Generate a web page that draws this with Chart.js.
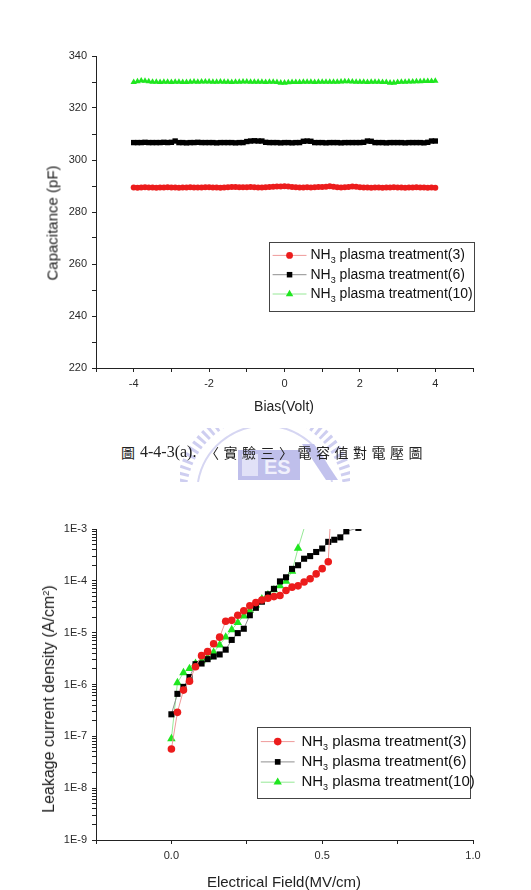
<!DOCTYPE html>
<html lang="zh-Hant">
<head>
<meta charset="UTF-8">
<title>NH3 plasma treatment: C-V and J-E</title>
<script src="https://cdn.jsdelivr.net/npm/chart.js@4"></script>
<style>
  body { margin: 0; background: #fff; font-family: 'Liberation Sans', Arial, sans-serif; }
  .page { position: relative; width: 531px; height: 890px; overflow: hidden; background: #fff; }
  .plot { position: absolute; left: 0; }
  .axis-title { position: absolute; color: #222; white-space: nowrap; transform: translate(-50%, -50%); line-height: 1; }
  .axis-title.vert { transform: translate(-50%, -50%) rotate(-90deg); }
  .axis-title sup { font-size: 60%; vertical-align: 0.55em; line-height: 0; }
  .mark { position: absolute; left: 180px; top: 428px; width: 170px; height: 54px; z-index: 0; opacity: 0.85; }
  .cap { position: absolute; top: 442px; line-height: 20px; color: #222; white-space: nowrap; z-index: 1; }
  .cjk { font-family: 'Noto Sans CJK TC', sans-serif; font-size: 14px; }
  .num { font-family: 'Liberation Serif', 'Times New Roman', serif; font-size: 16px; }
</style>
</head>
<body>
<div class="page">
  <canvas id="cvChart" class="plot" style="top:0" width="531" height="430"></canvas>
  <div class="axis-title vert" style="left:52px; top:223px; font-size:15px;">Capacitance (pF)</div>
  <div class="axis-title" style="left:284px; top:406px; font-size:14px;">Bias(Volt)</div>

  <svg class="mark" viewBox="0 0 170 54" xmlns="http://www.w3.org/2000/svg">
    <path d="M 2 54 A 84 84 0 0 1 168 54" fill="none" stroke="#c6c6ee" stroke-width="11" stroke-dasharray="3 3.5"/>
    <path d="M 18 54 A 68 68 0 0 1 152 54" fill="none" stroke="#cfcff0" stroke-width="2"/>
    <rect x="58" y="22" width="62" height="30" fill="#b4b4e8"/>
    <rect x="62" y="26" width="16" height="22" fill="#dcdcf6"/>
    <text x="84" y="46" font-family="Liberation Sans, Arial" font-size="20" font-weight="bold" fill="#eeeefc">ES</text>
    <path d="M 122 16 L 134 16 L 158 52 L 146 52 Z" fill="#b8b8ea"/>
  </svg>
  <div class="cap cjk" style="left:121px;">圖</div>
  <div class="cap num" style="left:140px;">4-4-3(a).</div>
  <div class="cap cjk" style="left:205px; letter-spacing:4.5px;">〈實驗三〉電容值對電壓圖</div>

  <canvas id="jeChart" class="plot" style="top:490px" width="531" height="400"></canvas>
  <div class="axis-title vert" style="left:49px; top:699px; font-size:16px;">Leakage current density (A/cm<sup>2</sup>)</div>
  <div class="axis-title" style="left:284px; top:881px; font-size:15px;">Electrical Field(MV/cm)</div>
</div>

<script>
// ---- C-V data (pF vs Volt) ----
const seriesLabels = ['NH₃ plasma treatment(3)', 'NH₃ plasma treatment(6)', 'NH₃ plasma treatment(10)'];

const biasVolt = [
  -4.0, -3.9, -3.8, -3.7, -3.6, -3.5, -3.4, -3.3, -3.2, -3.1,
  -3.0, -2.9, -2.8, -2.7, -2.6, -2.5, -2.4, -2.3, -2.2, -2.1,
  -2.0, -1.9, -1.8, -1.7, -1.6, -1.5, -1.4, -1.3, -1.2, -1.1,
  -1.0, -0.9, -0.8, -0.7, -0.6, -0.5, -0.4, -0.3, -0.2, -0.1,
  0.0, 0.1, 0.2, 0.3, 0.4, 0.5, 0.6, 0.7, 0.8, 0.9,
  1.0, 1.1, 1.2, 1.3, 1.4, 1.5, 1.6, 1.7, 1.8, 1.9,
  2.0, 2.1, 2.2, 2.3, 2.4, 2.5, 2.6, 2.7, 2.8, 2.9,
  3.0, 3.1, 3.2, 3.3, 3.4, 3.5, 3.6, 3.7, 3.8, 3.9,
  4.0
];
const capTreat3 = [
  289.4, 289.3, 289.4, 289.5, 289.4, 289.4, 289.3, 289.4, 289.4, 289.5,
  289.4, 289.4, 289.3, 289.4, 289.4, 289.5, 289.4, 289.4, 289.4, 289.5,
  289.5, 289.4, 289.4, 289.3, 289.4, 289.5, 289.6, 289.6, 289.5, 289.5,
  289.5, 289.6, 289.5, 289.4, 289.4, 289.5, 289.6, 289.7, 289.8, 289.8,
  289.9, 289.8, 289.6, 289.5, 289.4, 289.4, 289.5, 289.4, 289.5, 289.6,
  289.6, 289.7, 289.9, 289.7, 289.5, 289.4, 289.5, 289.6, 289.8, 289.7,
  289.5, 289.4, 289.4, 289.3, 289.4, 289.4, 289.3, 289.4, 289.4, 289.5,
  289.4, 289.4, 289.3, 289.4, 289.4, 289.5, 289.4, 289.4, 289.3, 289.4,
  289.3
];
const capTreat6 = [
  306.7, 306.7, 306.7, 306.8, 306.7, 306.7, 306.7, 306.7, 306.8, 306.7,
  306.8, 307.3, 306.7, 306.7, 306.6, 306.7, 306.7, 306.8, 306.7, 306.7,
  306.7, 306.7, 306.6, 306.7, 306.7, 306.7, 306.7, 306.6, 306.7, 306.7,
  307.1, 307.3, 307.4, 307.3, 307.3, 306.8, 306.7, 306.7, 306.7, 306.6,
  306.7, 306.7, 306.6, 306.7, 306.7, 307.2, 307.3, 307.2, 306.7, 306.7,
  306.7, 306.6, 306.7, 306.7, 306.7, 306.6, 306.7, 306.7, 306.7, 306.7,
  306.7, 306.8, 307.3, 307.2, 306.7, 306.7, 306.7, 306.6, 306.7, 306.7,
  306.7, 306.7, 306.6, 306.7, 306.7, 306.7, 306.7, 306.6, 306.8, 307.3,
  307.3
];
const capTreat10 = [
  329.9, 330.2, 330.5, 330.4, 330.2, 330.0, 330.0, 329.9, 330.0, 330.0,
  329.9, 330.0, 330.0, 329.9, 329.9, 330.0, 330.1, 330.0, 330.1, 330.1,
  330.1, 330.0, 330.0, 330.1, 330.0, 330.0, 329.9, 330.0, 330.0, 330.1,
  330.1, 330.0, 330.0, 330.0, 330.0, 329.9, 330.0, 330.0, 329.9, 329.7,
  329.7, 329.8, 329.9, 329.9, 329.9, 330.0, 330.0, 330.0, 329.9, 330.0,
  330.0, 330.0, 330.0, 330.0, 330.0, 330.1, 330.2, 330.2, 330.1, 330.0,
  330.0, 330.0, 329.9, 330.0, 330.0, 330.0, 329.9, 329.9, 329.7, 329.7,
  329.9, 330.0, 330.0, 330.1, 330.1, 330.2, 330.2, 330.3, 330.3, 330.3,
  330.4
];
const biasTicks = [-5, -4, -3, -2, -1, 0, 1, 2, 3, 4, 5];
const biasTickLabels = ['', '-4', '', '-2', '', '0', '', '2', '', '4', ''];
const capTicks = [220, 230, 240, 250, 260, 270, 280, 290, 300, 310, 320, 330, 340];
const capTickLabels = ['220', '', '240', '', '260', '', '280', '', '300', '', '320', '', '340'];

// ---- J-E data (A/cm2 vs MV/cm) ----
const fieldTreat3 = [0, 0.02, 0.04, 0.06, 0.08, 0.10, 0.12, 0.14, 0.16, 0.18, 0.20, 0.22, 0.24, 0.26,
  0.28, 0.30, 0.32, 0.34, 0.36, 0.38, 0.40, 0.42, 0.44, 0.46, 0.48, 0.50, 0.52, 0.53];
const leakTreat3 = [5.7e-8, 2.9e-7, 7.8e-7, 1.16e-6, 2.2e-6, 3.6e-6, 4.3e-6, 6.1e-6, 8.2e-6, 1.66e-5,
  1.73e-5, 2.17e-5, 2.64e-5, 3.3e-5, 3.8e-5, 4.27e-5, 4.6e-5, 4.96e-5, 5.2e-5, 6.5e-5, 7.55e-5,
  8.0e-5, 9.5e-5, 1.1e-4, 1.36e-4, 1.72e-4, 2.33e-4, 3.0e-3];
const fieldTreat6 = [0, 0.02, 0.04, 0.06, 0.08, 0.10, 0.12, 0.14, 0.16, 0.18, 0.20, 0.22, 0.24, 0.26,
  0.28, 0.30, 0.32, 0.34, 0.36, 0.38, 0.40, 0.42, 0.44, 0.46, 0.48, 0.50, 0.52, 0.54, 0.56, 0.58, 0.62];
const leakTreat6 = [2.66e-7, 6.6e-7, 9.0e-7, 1.39e-6, 2.46e-6, 2.54e-6, 3.08e-6, 3.47e-6, 3.8e-6, 4.7e-6,
  7.25e-6, 9.8e-6, 1.19e-5, 2.17e-5, 3.02e-5, 3.96e-5, 5.5e-5, 7.0e-5, 9.75e-5, 1.17e-4, 1.7e-4,
  2.0e-4, 2.67e-4, 3.0e-4, 3.6e-4, 4.2e-4, 5.65e-4, 6.2e-4, 6.9e-4, 9.0e-4, 1.05e-3];
const fieldTreat10 = [0, 0.02, 0.04, 0.06, 0.08, 0.10, 0.12, 0.14, 0.16, 0.18, 0.20, 0.22, 0.24, 0.26,
  0.28, 0.30, 0.32, 0.34, 0.36, 0.38, 0.40, 0.42, 0.45];
const leakTreat10 = [9.0e-8, 1.08e-6, 1.69e-6, 2.02e-6, 2.54e-6, 2.86e-6, 3.3e-6, 4.17e-6, 5.8e-6, 8.2e-6,
  1.14e-5, 1.56e-5, 2.1e-5, 2.7e-5, 3.4e-5, 4.47e-5, 5.35e-5, 6.7e-5, 8.0e-5, 9.75e-5, 1.53e-4,
  4.25e-4, 1.6e-3];
const fieldTicks = [-0.25, 0, 0.25, 0.5, 0.75, 1.0];
const fieldTickLabels = ['', '0.0', '', '0.5', '', '1.0'];
const leakDecades = [1e-9, 1e-8, 1e-7, 1e-6, 1e-5, 1e-4, 1e-3];
const leakDecadeLabels = ['1E-9', '1E-8', '1E-7', '1E-6', '1E-5', '1E-4', '1E-3'];

// minor log ticks 2..9 inside every decade
const leakTicks = [];
leakDecades.forEach((d, i) => {
  leakTicks.push(d);
  if (i < leakDecades.length - 1) {
    for (let m = 2; m <= 9; m++) leakTicks.push(+(d * m).toPrecision(3));
  }
});

const markerFill = ['#ec1c1c', '#000000', '#1fe61f'];
const lineTint = ['#ef9a9a', '#8f8f8f', '#96e896'];
const markerShape = ['circle', 'rect', 'triangle'];

Chart.defaults.font.family = "'Liberation Sans', Arial, sans-serif";
Chart.defaults.color = '#2a2a2a';

function drawMarker(ctx, shape, x, y, r, fill) {
  ctx.fillStyle = fill;
  ctx.beginPath();
  if (shape === 'circle') {
    ctx.arc(x, y, r, 0, Math.PI * 2);
  } else if (shape === 'rect') {
    const h = r * Math.SQRT1_2;
    ctx.rect(x - h, y - h, 2 * h, 2 * h);
  } else {
    ctx.moveTo(x, y - r);
    ctx.lineTo(x + r * 0.866, y + r * 0.5);
    ctx.lineTo(x - r * 0.866, y + r * 0.5);
    ctx.closePath();
  }
  ctx.fill();
}

// legend drawn as an Origin-style framed box, with the subscript in NH3
const boxLegend = {
  id: 'boxLegend',
  afterDatasetsDraw(chart, args, o) {
    const ctx = chart.ctx;
    ctx.save();
    ctx.fillStyle = '#fff';
    ctx.fillRect(o.left, o.top, o.right - o.left, o.bottom - o.top);
    ctx.strokeStyle = '#444';
    ctx.lineWidth = 1;
    ctx.strokeRect(Math.round(o.left) + 0.5, Math.round(o.top) + 0.5,
      Math.round(o.right - o.left), Math.round(o.bottom - o.top));
    chart.data.datasets.forEach((ds, i) => {
      const y = o.rows[i];
      ctx.strokeStyle = ds.borderColor;
      ctx.lineWidth = 1;
      ctx.beginPath();
      ctx.moveTo(o.lineX0, y);
      ctx.lineTo(o.lineX1, y);
      ctx.stroke();
      drawMarker(ctx, ds.pointStyle, (o.lineX0 + o.lineX1) / 2, y, o.markerR[i], ds.pointBackgroundColor);

      const parts = ds.label.split('₃');
      const fs = o.fontSize;
      ctx.fillStyle = '#111';
      ctx.textBaseline = 'middle';
      ctx.textAlign = 'left';
      ctx.font = fs + "px 'Liberation Sans', Arial";
      let x = o.textX;
      ctx.fillText(parts[0], x, y);
      x += ctx.measureText(parts[0]).width;
      ctx.font = Math.round(fs * 0.62) + "px 'Liberation Sans', Arial";
      ctx.fillText('3', x, y + fs * 0.38);
      x += ctx.measureText('3').width;
      ctx.font = fs + "px 'Liberation Sans', Arial";
      ctx.fillText(parts[1], x, y);
    });
    ctx.restore();
  }
};

function axisStyle(extra) {
  return Object.assign({
    grid: { drawOnChartArea: false, drawTicks: true, tickLength: 4, tickColor: '#222', tickWidth: 1 },
    border: { display: true, color: '#222', width: 1 }
  }, extra);
}

// ---------- chart 1: capacitance vs bias ----------
new Chart(document.getElementById('cvChart'), {
  type: 'scatter',
  data: {
    datasets: [capTreat3, capTreat6, capTreat10].map((vals, i) => ({
      label: seriesLabels[i],
      data: biasVolt.map((v, k) => ({ x: v, y: vals[k] })),
      showLine: true,
      borderColor: lineTint[i],
      borderWidth: 1,
      pointStyle: markerShape[i],
      pointRadius: [3, 3.8, 3.7][i],
      pointBorderWidth: 0,
      pointBackgroundColor: markerFill[i],
      pointBorderColor: markerFill[i]
    }))
  },
  options: {
    responsive: false,
    animation: false,
    layout: { padding: { top: 56, right: 58, left: 0, bottom: 0 } },
    plugins: {
      legend: { display: false },
      tooltip: { enabled: false },
      boxLegend: {
        left: 269, top: 241.5, right: 474, bottom: 310,
        rows: [255.4, 274.7, 294], lineX0: 272.6, lineX1: 306.5, textX: 310.5,
        fontSize: 14, markerR: [3.4, 3.9, 4.3]
      }
    },
    scales: {
      x: axisStyle({
        type: 'linear', min: -5, max: 5,
        afterBuildTicks: s => { s.ticks = biasTicks.map(v => ({ value: v })); },
        afterFit: s => { s.height = 62; },
        ticks: { autoSkip: false, maxRotation: 0, padding: 5, font: { size: 11 },
          callback: (v, i) => biasTickLabels[i] }
      }),
      y: axisStyle({
        type: 'linear', min: 220, max: 340,
        afterBuildTicks: s => { s.ticks = capTicks.map(v => ({ value: v })); },
        afterFit: s => { s.width = 96; },
        ticks: { autoSkip: false, padding: 5, font: { size: 11 },
          callback: (v, i) => capTickLabels[i] }
      })
    }
  },
  plugins: [boxLegend]
});

// ---------- chart 2: leakage current density vs field ----------
const jeSets = [[fieldTreat3, leakTreat3], [fieldTreat6, leakTreat6], [fieldTreat10, leakTreat10]];
new Chart(document.getElementById('jeChart'), {
  type: 'scatter',
  data: {
    datasets: jeSets.map(([xs, ys], i) => ({
      label: seriesLabels[i],
      data: xs.map((x, k) => ({ x: x, y: ys[k] })),
      showLine: true,
      borderColor: lineTint[i],
      borderWidth: 1,
      pointStyle: markerShape[i],
      pointRadius: [3.8, 4.3, 4.9][i],
      pointBorderWidth: 0,
      pointBackgroundColor: markerFill[i],
      pointBorderColor: markerFill[i]
    }))
  },
  options: {
    responsive: false,
    animation: false,
    layout: { padding: { top: 39, right: 58, left: 0, bottom: 0 } },
    plugins: {
      legend: { display: false },
      tooltip: { enabled: false },
      boxLegend: {
        left: 257.4, top: 237, right: 470.7, bottom: 308.2,
        rows: [251.6, 271.9, 292.2], lineX0: 260.8, lineX1: 294.6, textX: 301.4,
        fontSize: 15, markerR: [3.8, 4.0, 4.8]
      }
    },
    scales: {
      x: axisStyle({
        type: 'linear', min: -0.25, max: 1.0,
        afterBuildTicks: s => { s.ticks = fieldTicks.map(v => ({ value: v })); },
        afterFit: s => { s.height = 50; },
        ticks: { autoSkip: false, maxRotation: 0, padding: 5, font: { size: 11 },
          callback: (v, i) => fieldTickLabels[i] }
      }),
      y: axisStyle({
        type: 'logarithmic', min: 1e-9, max: 1e-3,
        afterBuildTicks: s => { s.ticks = leakTicks.map(v => ({ value: v })); },
        afterFit: s => { s.width = 96; },
        ticks: { autoSkip: false, padding: 5, font: { size: 11 },
          callback: v => {
            const k = leakDecades.findIndex(d => Math.abs(d - v) < d * 1e-6);
            return k >= 0 ? leakDecadeLabels[k] : '';
          } }
      })
    }
  },
  plugins: [boxLegend]
});
</script>
</body>
</html>
